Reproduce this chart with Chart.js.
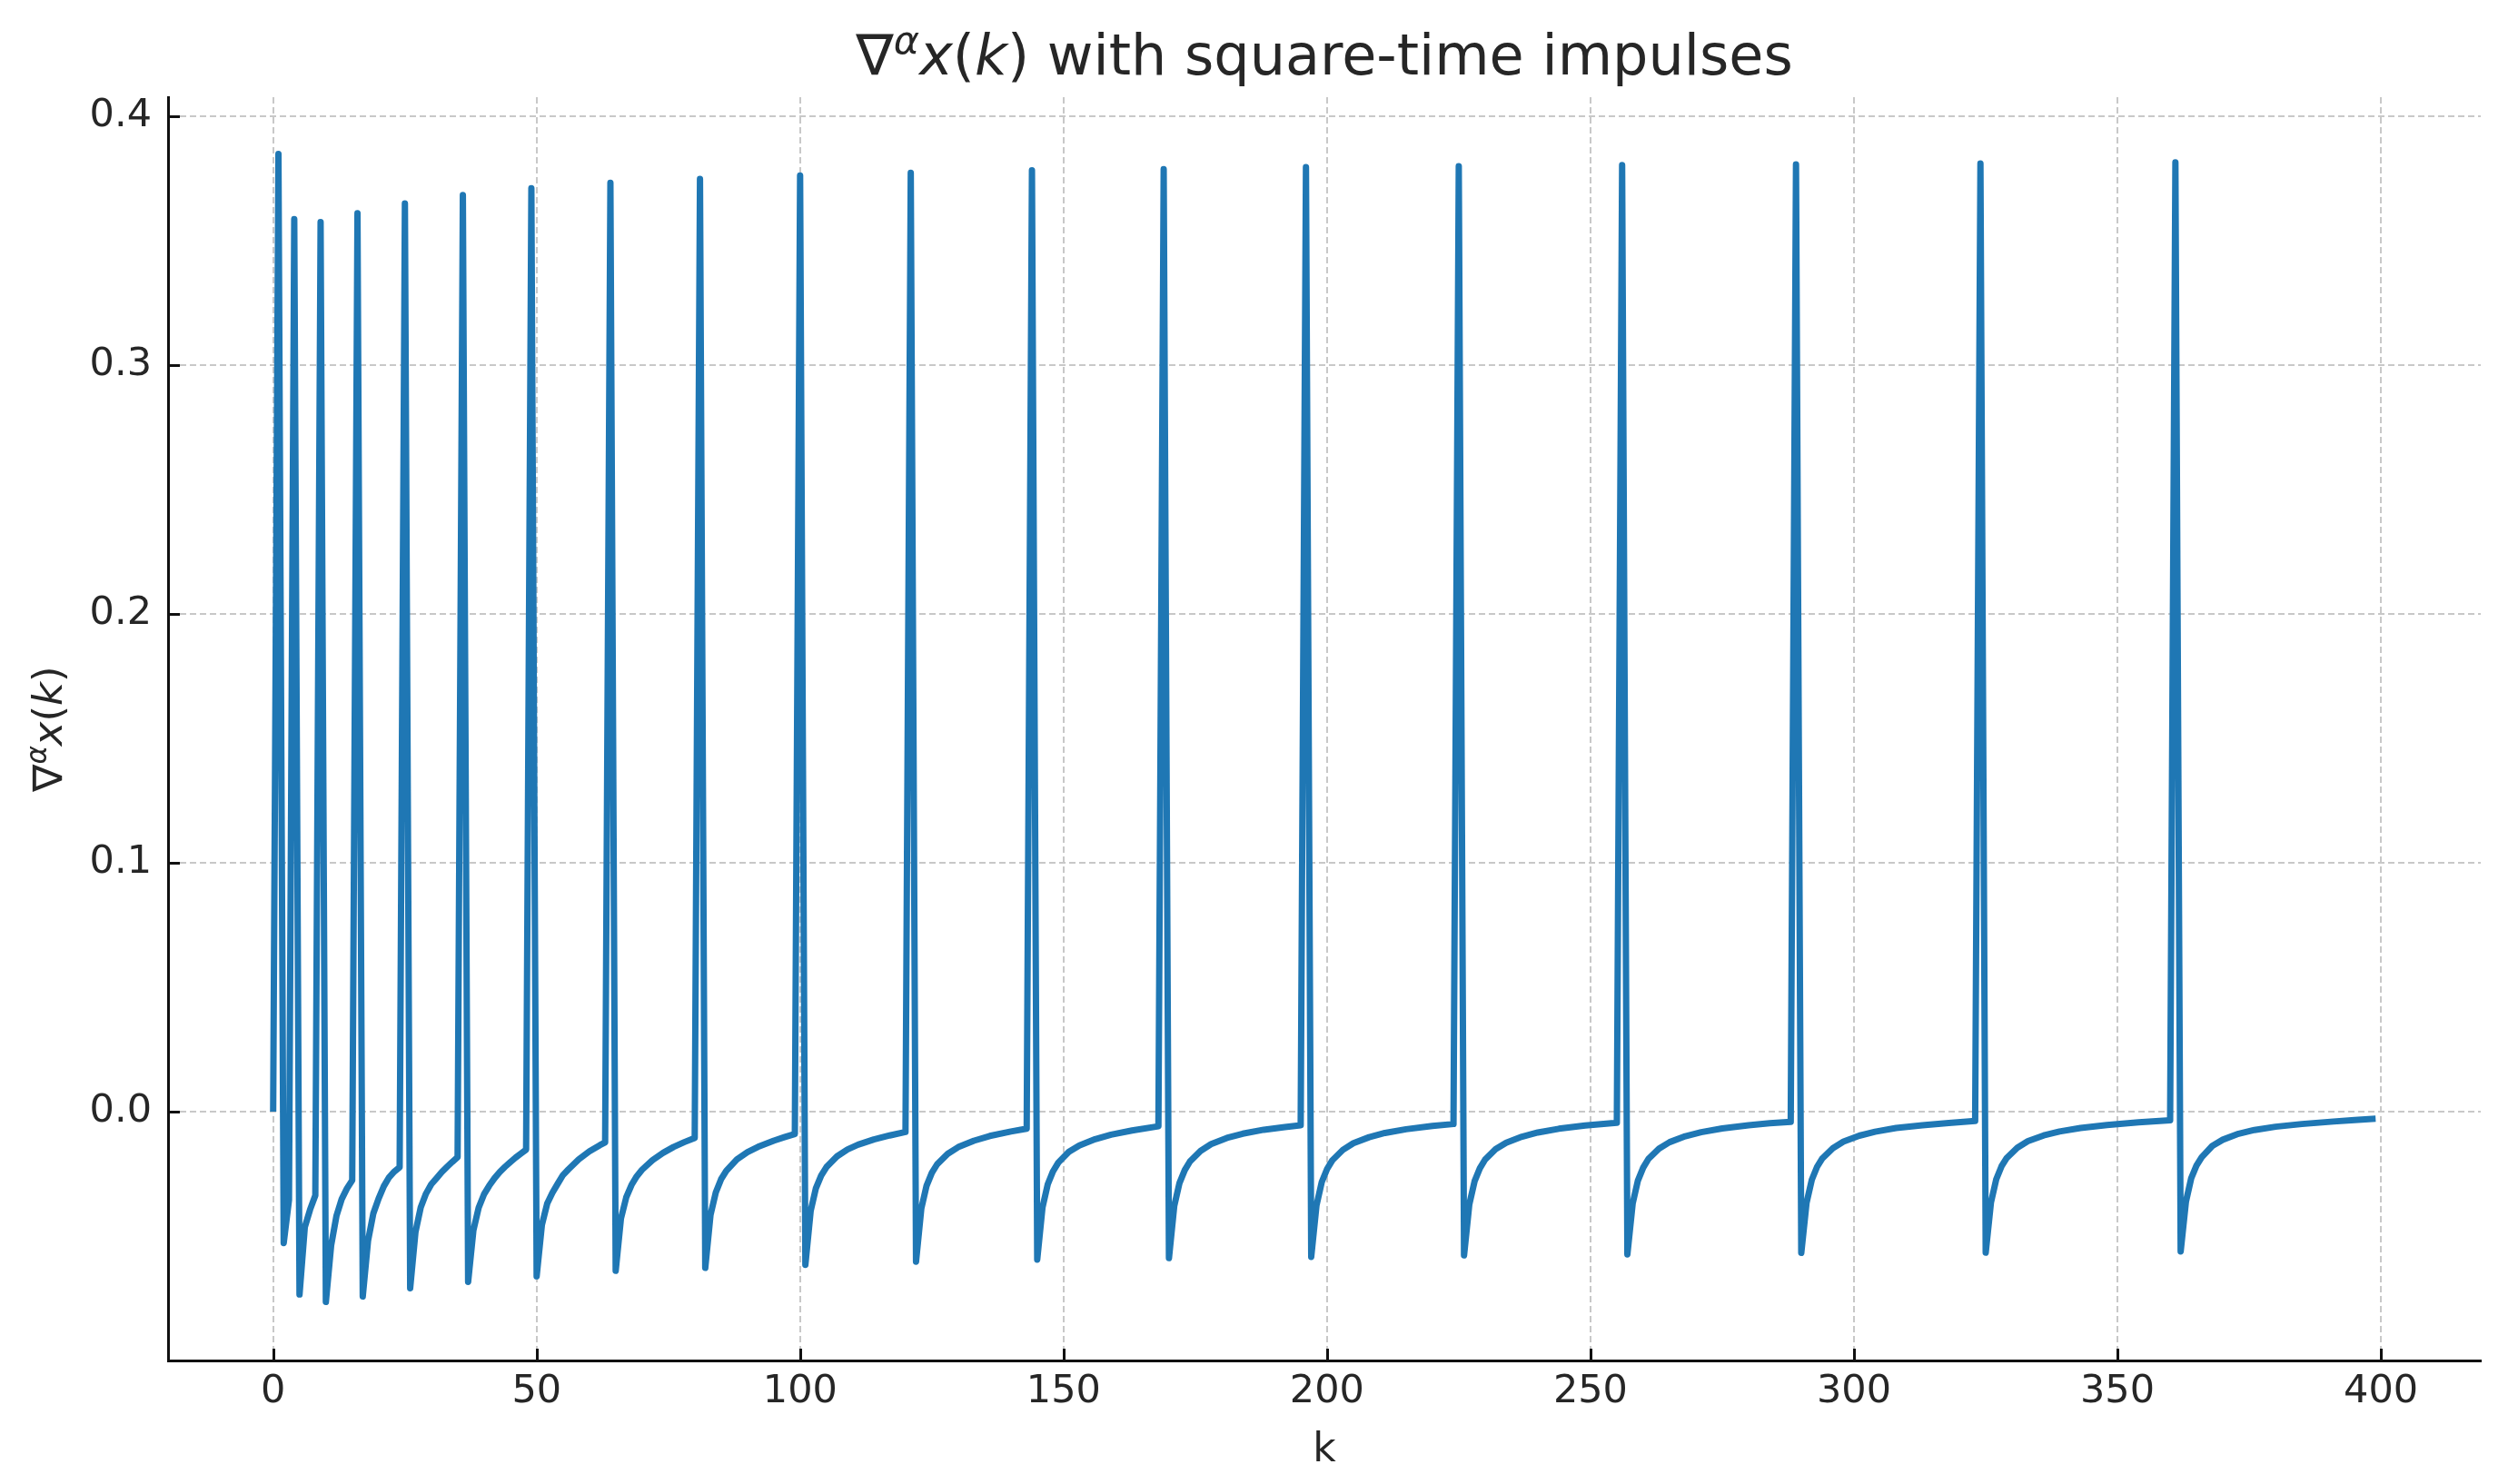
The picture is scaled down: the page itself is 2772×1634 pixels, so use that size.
<!DOCTYPE html>
<html>
<head>
<meta charset="utf-8">
<script src="https://cdn.jsdelivr.net/npm/chart.js@4.4.1/dist/chart.umd.min.js"></script>
<style>
  html, body { margin: 0; padding: 0; background: #fff; }
  canvas { display: block; }
</style>
</head>
<body>
<canvas id="myChart" width="2772" height="1634"></canvas>
<script>
// time index k (one row per impulse at k = n^2 and the recovery after it)
var kValues = [
  0, 1, 2, 3,
  4, 5, 6, 7, 8,
  9, 10, 11, 12, 13, 14, 15,
  16, 17, 18, 19, 20, 21, 22, 23, 24,
  25, 26, 27, 28, 29, 30, 31, 32, 33, 34, 35,
  36, 37, 38, 39, 40, 41, 42, 43, 44, 45, 46, 47, 48,
  49, 50, 51, 52, 53, 54, 55, 56, 58, 60, 62, 63,
  64, 65, 66, 67, 68, 69, 70, 72, 74, 76, 78, 80,
  81, 82, 83, 84, 85, 86, 88, 90, 92, 95, 97, 99,
  100, 101, 102, 103, 104, 105, 107, 109, 111, 114, 117, 120,
  121, 122, 123, 124, 125, 126, 128, 130, 133, 136, 140, 143,
  144, 145, 146, 147, 148, 149, 151, 153, 156, 159, 163, 168,
  169, 170, 171, 172, 173, 174, 176, 178, 181, 184, 188, 192, 195,
  196, 197, 198, 199, 200, 201, 203, 205, 208, 211, 215, 220, 224,
  225, 226, 227, 228, 229, 230, 232, 234, 237, 240, 244, 249, 255,
  256, 257, 258, 259, 260, 261, 263, 265, 268, 271, 275, 280, 284, 288,
  289, 290, 291, 292, 293, 294, 296, 298, 301, 304, 308, 313, 318, 323,
  324, 325, 326, 327, 328, 329, 331, 333, 336, 339, 343, 348, 354, 360,
  361, 362, 363, 364, 365, 366, 368, 370, 373, 376, 380, 385, 391, 395, 399
];

// nabla^alpha x(k)
var yValues = [
  0, 0.3847, -0.0528, -0.0355,
  0.3585, -0.0735, -0.0465, -0.0394, -0.0337,
  0.3573, -0.0765, -0.0538, -0.0420, -0.0352, -0.0309, -0.0276,
  0.3609, -0.0743, -0.0520, -0.0410, -0.0350, -0.0300, -0.0264, -0.0241, -0.0224,
  0.3648, -0.0710, -0.0485, -0.0385, -0.0330, -0.0292, -0.0268, -0.0243, -0.0222, -0.0202, -0.0183,
  0.3682, -0.0684, -0.0477, -0.0386, -0.0333, -0.0298, -0.0268, -0.0243, -0.0222, -0.0203, -0.0185, -0.0169, -0.0153,
  0.3709, -0.0662, -0.0455, -0.0370, -0.0326, -0.0290, -0.0255, -0.0233, -0.0192, -0.0160, -0.0135, -0.0124,
  0.3731, -0.0640, -0.0430, -0.0345, -0.0295, -0.0260, -0.0234, -0.0195, -0.0166, -0.0142, -0.0123, -0.0106,
  0.3747, -0.0628, -0.0415, -0.0325, -0.0272, -0.0238, -0.0192, -0.0163, -0.0142, -0.0117, -0.0103, -0.0090,
  0.3760, -0.0616, -0.0400, -0.0308, -0.0257, -0.0223, -0.0180, -0.0152, -0.0133, -0.0112, -0.0096, -0.0082,
  0.3771, -0.0603, -0.0390, -0.0298, -0.0246, -0.0212, -0.0170, -0.0143, -0.0117, -0.0098, -0.0080, -0.0069,
  0.3781, -0.0595, -0.0385, -0.0292, -0.0240, -0.0205, -0.0162, -0.0136, -0.0111, -0.0093, -0.0076, -0.0059,
  0.3786, -0.0589, -0.0380, -0.0287, -0.0235, -0.0200, -0.0158, -0.0131, -0.0106, -0.0089, -0.0073, -0.0062, -0.0055,
  0.3794, -0.0584, -0.0377, -0.0283, -0.0231, -0.0196, -0.0154, -0.0127, -0.0103, -0.0086, -0.0071, -0.0058, -0.0050,
  0.3798, -0.0578, -0.0373, -0.0280, -0.0228, -0.0193, -0.0151, -0.0125, -0.0101, -0.0084, -0.0069, -0.0056, -0.0045,
  0.3802, -0.0574, -0.0370, -0.0277, -0.0225, -0.0190, -0.0149, -0.0123, -0.0099, -0.0083, -0.0068, -0.0055, -0.0047, -0.0041,
  0.3805, -0.0568, -0.0367, -0.0274, -0.0222, -0.0188, -0.0147, -0.0121, -0.0097, -0.0081, -0.0066, -0.0055, -0.0046, -0.0038,
  0.3809, -0.0567, -0.0365, -0.0272, -0.0220, -0.0186, -0.0145, -0.0119, -0.0096, -0.0080, -0.0066, -0.0054, -0.0043, -0.0035,
  0.3813, -0.0562, -0.0362, -0.0268, -0.0217, -0.0183, -0.0138, -0.0113, -0.0089, -0.0074, -0.0061, -0.0050, -0.0040, -0.0034, -0.0029
];

var xTicks = [0, 50, 100, 150, 200, 250, 300, 350, 400];
var yTicks = [0.0, 0.1, 0.2, 0.3, 0.4];

var FONT = "'DejaVu Sans'";
var TEXT = "#262626";

var points = kValues.map(function (k, i) { return { x: k, y: yValues[i] }; });

// mixed upright / italic / superscript text, like matplotlib mathtext
function partFont(p, size) {
  if (p[1] === "sup") return "italic " + Math.round(size * 0.7) + "px " + FONT;
  if (p[1] === "it") return "italic " + size + "px " + FONT;
  return size + "px " + FONT;
}
function drawMath(ctx, parts, cx, baseY, size) {
  var widths = parts.map(function (p) {
    ctx.font = partFont(p, size);
    return ctx.measureText(p[0]).width;
  });
  var total = widths.reduce(function (a, b) { return a + b; }, 0);
  var x = cx - total / 2;
  ctx.textAlign = "left";
  ctx.textBaseline = "alphabetic";
  parts.forEach(function (p, i) {
    ctx.font = partFont(p, size);
    var dy = p[1] === "sup" ? -0.37 * size : 0;
    ctx.fillText(p[0], x, baseY + dy);
    x += widths[i];
  });
}

var labelParts = [["\u2207", ""], ["\u03b1", "sup"], ["x", "it"], ["(", ""], ["k", "it"], [")", ""]];
var titleParts = labelParts.concat([[" with square-time impulses", ""]]);

var textPlugin = {
  id: "textPlugin",
  afterDraw: function (chart) {
    var ctx = chart.ctx;
    var a = chart.chartArea;
    var cx = (a.left + a.right) / 2;
    ctx.save();
    ctx.fillStyle = TEXT;
    // title
    drawMath(ctx, titleParts, cx, 82, 62);
    // x label
    ctx.font = "44px " + FONT;
    ctx.textAlign = "center";
    ctx.textBaseline = "alphabetic";
    ctx.fillText("k", cx, 1609);
    // y label (rotated)
    ctx.translate(68, (a.top + a.bottom) / 2);
    ctx.rotate(-Math.PI / 2);
    drawMath(ctx, labelParts, 0, 0, 45);
    ctx.restore();

    // ticks pointing inward
    var xs = chart.scales.x, ys = chart.scales.y;
    ctx.save();
    ctx.strokeStyle = "#111";
    ctx.lineWidth = 3;
    ctx.beginPath();
    xTicks.forEach(function (v) {
      var px = Math.round(xs.getPixelForValue(v)) + 0.5;
      ctx.moveTo(px, a.bottom);
      ctx.lineTo(px, a.bottom - 13);
    });
    yTicks.forEach(function (v) {
      var py = Math.round(ys.getPixelForValue(v)) + 0.5;
      ctx.moveTo(a.left, py);
      ctx.lineTo(a.left + 13, py);
    });
    ctx.stroke();
    ctx.restore();
  }
};

new Chart("myChart", {
  type: "line",
  data: {
    datasets: [{
      data: points,
      borderColor: "#1f77b4",
      borderWidth: 7,
      borderJoinStyle: "round",
      pointRadius: 0,
      tension: 0,
      fill: false
    }]
  },
  options: {
    responsive: false,
    animation: false,
    devicePixelRatio: 1,
    layout: { padding: { top: 107, right: 41, left: 0, bottom: 0 } },
    plugins: { legend: { display: false }, tooltip: { enabled: false } },
    scales: {
      x: {
        type: "linear",
        min: -19.95,
        max: 418.95,
        afterFit: function (s) { s.height = 136; },
        afterBuildTicks: function (s) { s.ticks = xTicks.map(function (v) { return { value: v }; }); },
        grid: { color: "#c8c8c8", lineWidth: 2, drawTicks: false },
        border: { display: true, color: "#111", width: 3, dash: [7, 4] },
        ticks: {
          padding: 9,
          color: TEXT,
          font: { family: "DejaVu Sans", size: 43 },
          maxRotation: 0,
          callback: function (v) { return String(v); }
        }
      },
      y: {
        type: "linear",
        min: -0.1,
        max: 0.4075,
        afterFit: function (s) { s.width = 185; },
        afterBuildTicks: function (s) { s.ticks = yTicks.map(function (v) { return { value: v }; }); },
        grid: { color: "#c8c8c8", lineWidth: 2, drawTicks: false },
        border: { display: true, color: "#111", width: 3, dash: [7, 4] },
        ticks: {
          padding: 18,
          color: TEXT,
          font: { family: "DejaVu Sans", size: 43 },
          callback: function (v) { return v.toFixed(1); }
        }
      }
    }
  },
  plugins: [textPlugin]
});
</script>
</body>
</html>
